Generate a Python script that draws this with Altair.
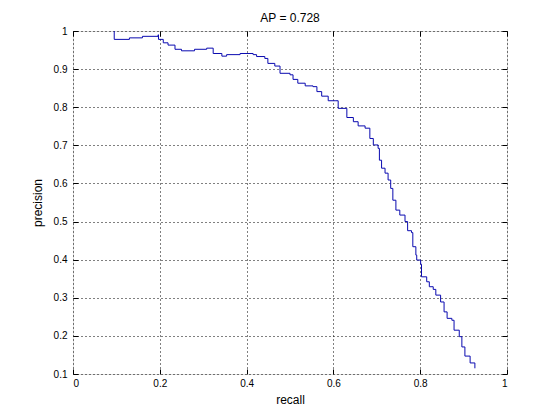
import altair as alt
import pandas as pd

recall = [0.095, 0.095, 0.130, 0.160, 0.196, 0.197, 0.208, 0.219, 0.235, 0.250,
          0.280, 0.308, 0.323, 0.343, 0.354, 0.385, 0.415, 0.423, 0.442, 0.449,
          0.465, 0.477, 0.500, 0.507, 0.518, 0.535, 0.553, 0.562, 0.573, 0.588,
          0.604, 0.611, 0.631, 0.646, 0.657, 0.673, 0.684, 0.692, 0.703, 0.706,
          0.711, 0.719, 0.726, 0.732, 0.737, 0.744, 0.753, 0.765, 0.771, 0.780,
          0.783, 0.790, 0.792, 0.801, 0.803, 0.815, 0.821, 0.830, 0.836, 0.847,
          0.855, 0.862, 0.873, 0.878, 0.890, 0.896, 0.903, 0.915, 0.926]
precision = [1.000, 0.978, 0.982, 0.986, 0.990, 0.978, 0.969, 0.963, 0.952, 0.948,
             0.952, 0.955, 0.941, 0.934, 0.938, 0.941, 0.938, 0.933, 0.928, 0.915,
             0.908, 0.889, 0.885, 0.873, 0.863, 0.856, 0.854, 0.841, 0.829, 0.817,
             0.817, 0.797, 0.773, 0.762, 0.751, 0.745, 0.718, 0.701, 0.692, 0.661,
             0.640, 0.627, 0.609, 0.587, 0.556, 0.530, 0.517, 0.500, 0.476, 0.471,
             0.434, 0.412, 0.399, 0.388, 0.355, 0.342, 0.329, 0.322, 0.307, 0.289,
             0.263, 0.246, 0.241, 0.215, 0.198, 0.171, 0.147, 0.129, 0.115]

x_ticks = [0, 0.2, 0.4, 0.6, 0.8, 1]
y_ticks = [0.1, 0.2, 0.3, 0.4, 0.5, 0.6, 0.7, 0.8, 0.9, 1]
title_text = "AP = 0.728"

df = pd.DataFrame({"recall": recall, "precision": precision, "i": list(range(len(recall)))})

FONT = "Liberation Sans"
xs = alt.Scale(domain=[0, 1], nice=False, zero=False)
ys = alt.Scale(domain=[0.1, 1], nice=False, zero=False)

main_x_axis = alt.Axis(values=x_ticks, format="~g", title="recall", grid=True,
                       gridDash=[1, 3], gridColor="black", gridOpacity=1,
                       ticks=False, domain=False, labelPadding=4, titlePadding=6,
                       titleFontWeight="normal", titleFont=FONT, titleFontSize=12)
main_y_axis = alt.Axis(values=y_ticks, format="~g", title="precision", grid=True,
                       gridDash=[1, 3], gridColor="black", gridOpacity=1,
                       ticks=False, domain=False, labelPadding=6, titlePadding=9,
                       titleFontWeight="normal", titleFont=FONT, titleFontSize=12)

line = alt.Chart(df).mark_line(color="#0a0ab0", strokeWidth=1, interpolate="step-after").encode(
    x=alt.X("recall:Q", scale=xs, axis=main_x_axis),
    y=alt.Y("precision:Q", scale=ys, axis=main_y_axis),
    order="i:Q",
)

def tick_axis(vals, orient):
    return alt.Axis(values=vals, orient=orient, labels=False, domain=False, grid=False,
                    ticks=True, tickSize=5, offset=-5, title=None, tickColor="black")

ticks_tr = alt.Chart(df).mark_point(opacity=0).encode(
    x=alt.X("recall:Q", scale=xs, axis=tick_axis(x_ticks, "top")),
    y=alt.Y("precision:Q", scale=ys, axis=tick_axis(y_ticks, "right")),
)
ticks_bl = alt.Chart(df).mark_point(opacity=0).encode(
    x=alt.X("recall:Q", scale=xs, axis=tick_axis(x_ticks, "bottom")),
    y=alt.Y("precision:Q", scale=ys, axis=tick_axis(y_ticks, "left")),
)

chart = alt.layer(line, ticks_tr, ticks_bl).resolve_axis(
    x="independent", y="independent"
).properties(
    width=434, height=343,
    title=alt.TitleParams(title_text, fontSize=12, fontWeight="normal", font=FONT,
                          color="black", offset=1),
    autosize=alt.AutoSizeParams(type="none"),
    padding={"left": 65, "top": 23, "right": 40, "bottom": 36},
).configure_view(
    stroke="black", strokeWidth=1
).configure_axis(
    labelFont=FONT, labelFontSize=12, labelColor="black",
    titleFont=FONT, titleFontSize=12, titleFontWeight="normal", titleColor="black",
).configure(background="white")

chart.save("out.html", embed_options={"renderer": "svg", "actions": False})
